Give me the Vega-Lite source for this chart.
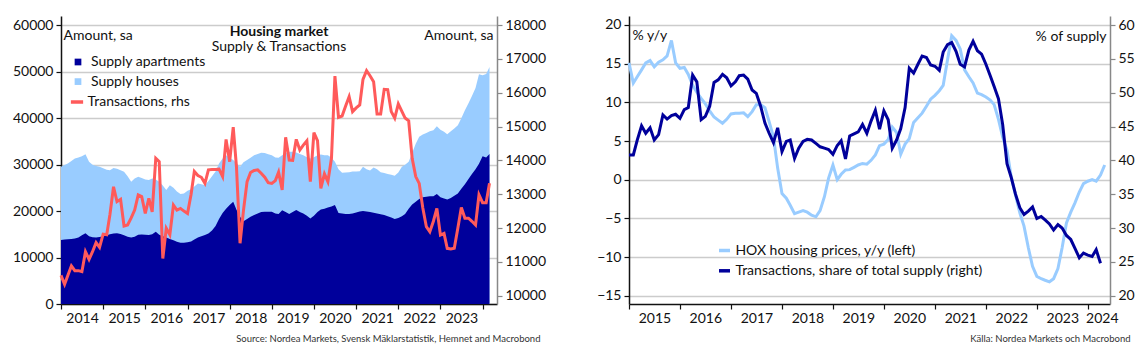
{
  "$schema": "https://vega.github.io/schema/vega-lite/v6.json",
  "background": "white",
  "padding": {"left": 12, "top": 16, "right": 5, "bottom": 5},
  "config": {
    "font": "Lato",
    "view": {"stroke": null},
    "axis": {"labelFontSize": 14, "labelColor": "#111", "titleFontWeight": "normal", "titleColor": "#111", "titleFontSize": 14, "tickSize": 5, "domainColor": "#111", "tickColor": "#111", "domainWidth": 1.5, "tickWidth": 1.2, "gridColor": "#cccccc", "gridWidth": 1.3, "labelPadding": 3},
    "legend": {"labelFontSize": 14, "labelColor": "#111", "padding": 0, "labelLimit": 0}
  },
  "spacing": 50,
  "resolve": {"scale": {"x": "independent", "y": "independent", "fill": "independent", "stroke": "independent"}, "legend": {"fill": "independent", "stroke": "independent"}},
  "hconcat": [
    {
      "width": 436, "height": 288,
      "title": {"text": "Housing market", "subtitle": "Supply & Transactions", "fontSize": 14, "fontWeight": "bold", "subtitleFontSize": 14, "subtitleColor": "#111", "color": "#111", "anchor": "middle", "frame": "group", "offset": -38, "subtitlePadding": 1},
      "data": {"values": [
        {"date": "2014-01-01", "supply_apartments": 13760, "supply_total": 29530, "transactions": 10600},
        {"date": "2014-02-01", "supply_apartments": 13900, "supply_total": 29900, "transactions": 10335},
        {"date": "2014-03-01", "supply_apartments": 13950, "supply_total": 30250, "transactions": 10600},
        {"date": "2014-04-01", "supply_apartments": 14000, "supply_total": 30800, "transactions": 10880},
        {"date": "2014-05-01", "supply_apartments": 14100, "supply_total": 31300, "transactions": 10740},
        {"date": "2014-06-01", "supply_apartments": 14300, "supply_total": 31540, "transactions": 10740},
        {"date": "2014-07-01", "supply_apartments": 14800, "supply_total": 31800, "transactions": 10710},
        {"date": "2014-08-01", "supply_apartments": 15250, "supply_total": 32260, "transactions": 11300},
        {"date": "2014-09-01", "supply_apartments": 14600, "supply_total": 30610, "transactions": 11075},
        {"date": "2014-10-01", "supply_apartments": 14350, "supply_total": 30000, "transactions": 11300},
        {"date": "2014-11-01", "supply_apartments": 14300, "supply_total": 29700, "transactions": 11570},
        {"date": "2014-12-01", "supply_apartments": 14400, "supply_total": 29530, "transactions": 11430},
        {"date": "2015-01-01", "supply_apartments": 14600, "supply_total": 29200, "transactions": 11820},
        {"date": "2015-02-01", "supply_apartments": 14800, "supply_total": 28900, "transactions": 11800},
        {"date": "2015-03-01", "supply_apartments": 15000, "supply_total": 28820, "transactions": 12400},
        {"date": "2015-04-01", "supply_apartments": 15200, "supply_total": 29300, "transactions": 13220},
        {"date": "2015-05-01", "supply_apartments": 15250, "supply_total": 29100, "transactions": 12780},
        {"date": "2015-06-01", "supply_apartments": 15050, "supply_total": 28800, "transactions": 12850},
        {"date": "2015-07-01", "supply_apartments": 14800, "supply_total": 28460, "transactions": 12060},
        {"date": "2015-08-01", "supply_apartments": 14480, "supply_total": 27500, "transactions": 12090},
        {"date": "2015-09-01", "supply_apartments": 14330, "supply_total": 26300, "transactions": 12300},
        {"date": "2015-10-01", "supply_apartments": 14500, "supply_total": 27000, "transactions": 12530},
        {"date": "2015-11-01", "supply_apartments": 14900, "supply_total": 27380, "transactions": 12980},
        {"date": "2015-12-01", "supply_apartments": 14980, "supply_total": 27100, "transactions": 12930},
        {"date": "2016-01-01", "supply_apartments": 14900, "supply_total": 26810, "transactions": 12430},
        {"date": "2016-02-01", "supply_apartments": 14840, "supply_total": 26700, "transactions": 12880},
        {"date": "2016-03-01", "supply_apartments": 15000, "supply_total": 27020, "transactions": 12480},
        {"date": "2016-04-01", "supply_apartments": 15550, "supply_total": 26800, "transactions": 14060},
        {"date": "2016-05-01", "supply_apartments": 14900, "supply_total": 26300, "transactions": 13960},
        {"date": "2016-06-01", "supply_apartments": 14600, "supply_total": 25500, "transactions": 11100},
        {"date": "2016-07-01", "supply_apartments": 14330, "supply_total": 24520, "transactions": 11990},
        {"date": "2016-08-01", "supply_apartments": 14000, "supply_total": 25590, "transactions": 11800},
        {"date": "2016-09-01", "supply_apartments": 13700, "supply_total": 25000, "transactions": 12680},
        {"date": "2016-10-01", "supply_apartments": 13400, "supply_total": 24200, "transactions": 12530},
        {"date": "2016-11-01", "supply_apartments": 13200, "supply_total": 23660, "transactions": 12580},
        {"date": "2016-12-01", "supply_apartments": 13190, "supply_total": 23800, "transactions": 12500},
        {"date": "2017-01-01", "supply_apartments": 13300, "supply_total": 24370, "transactions": 12430},
        {"date": "2017-02-01", "supply_apartments": 13450, "supply_total": 24700, "transactions": 13000},
        {"date": "2017-03-01", "supply_apartments": 13900, "supply_total": 25300, "transactions": 13670},
        {"date": "2017-04-01", "supply_apartments": 14330, "supply_total": 25950, "transactions": 13550},
        {"date": "2017-05-01", "supply_apartments": 14600, "supply_total": 25800, "transactions": 13500},
        {"date": "2017-06-01", "supply_apartments": 14840, "supply_total": 25590, "transactions": 13320},
        {"date": "2017-07-01", "supply_apartments": 15200, "supply_total": 26500, "transactions": 13720},
        {"date": "2017-08-01", "supply_apartments": 15800, "supply_total": 27500, "transactions": 13730},
        {"date": "2017-09-01", "supply_apartments": 16800, "supply_total": 28500, "transactions": 13730},
        {"date": "2017-10-01", "supply_apartments": 18300, "supply_total": 30250, "transactions": 13740},
        {"date": "2017-11-01", "supply_apartments": 19600, "supply_total": 31300, "transactions": 13520},
        {"date": "2017-12-01", "supply_apartments": 20500, "supply_total": 32040, "transactions": 14620},
        {"date": "2018-01-01", "supply_apartments": 21300, "supply_total": 31500, "transactions": 13960},
        {"date": "2018-02-01", "supply_apartments": 22000, "supply_total": 31000, "transactions": 14980},
        {"date": "2018-03-01", "supply_apartments": 20300, "supply_total": 30300, "transactions": 13810},
        {"date": "2018-04-01", "supply_apartments": 18800, "supply_total": 29530, "transactions": 11550},
        {"date": "2018-05-01", "supply_apartments": 17800, "supply_total": 30500, "transactions": 12530},
        {"date": "2018-06-01", "supply_apartments": 18300, "supply_total": 31000, "transactions": 13370},
        {"date": "2018-07-01", "supply_apartments": 18800, "supply_total": 31500, "transactions": 13640},
        {"date": "2018-08-01", "supply_apartments": 19140, "supply_total": 32040, "transactions": 13700},
        {"date": "2018-09-01", "supply_apartments": 19500, "supply_total": 32300, "transactions": 13720},
        {"date": "2018-10-01", "supply_apartments": 19800, "supply_total": 32540, "transactions": 13620},
        {"date": "2018-11-01", "supply_apartments": 19860, "supply_total": 32500, "transactions": 13500},
        {"date": "2018-12-01", "supply_apartments": 19860, "supply_total": 32260, "transactions": 13340},
        {"date": "2019-01-01", "supply_apartments": 19860, "supply_total": 32000, "transactions": 13320},
        {"date": "2019-02-01", "supply_apartments": 19500, "supply_total": 31540, "transactions": 13400},
        {"date": "2019-03-01", "supply_apartments": 19400, "supply_total": 31500, "transactions": 13650},
        {"date": "2019-04-01", "supply_apartments": 20200, "supply_total": 32000, "transactions": 13125},
        {"date": "2019-05-01", "supply_apartments": 19800, "supply_total": 32500, "transactions": 14680},
        {"date": "2019-06-01", "supply_apartments": 19350, "supply_total": 32750, "transactions": 14010},
        {"date": "2019-07-01", "supply_apartments": 19800, "supply_total": 32800, "transactions": 14000},
        {"date": "2019-08-01", "supply_apartments": 20210, "supply_total": 32600, "transactions": 14620},
        {"date": "2019-09-01", "supply_apartments": 19800, "supply_total": 32300, "transactions": 14305},
        {"date": "2019-10-01", "supply_apartments": 19500, "supply_total": 32000, "transactions": 14450},
        {"date": "2019-11-01", "supply_apartments": 19000, "supply_total": 31600, "transactions": 14580},
        {"date": "2019-12-01", "supply_apartments": 18420, "supply_total": 31330, "transactions": 13370},
        {"date": "2020-01-01", "supply_apartments": 19000, "supply_total": 31600, "transactions": 14820},
        {"date": "2020-02-01", "supply_apartments": 19800, "supply_total": 32000, "transactions": 14580},
        {"date": "2020-03-01", "supply_apartments": 20360, "supply_total": 32200, "transactions": 13175},
        {"date": "2020-04-01", "supply_apartments": 20500, "supply_total": 32000, "transactions": 13600},
        {"date": "2020-05-01", "supply_apartments": 20800, "supply_total": 32000, "transactions": 13370},
        {"date": "2020-06-01", "supply_apartments": 21000, "supply_total": 31500, "transactions": 14060},
        {"date": "2020-07-01", "supply_apartments": 21290, "supply_total": 30610, "transactions": 16490},
        {"date": "2020-08-01", "supply_apartments": 19600, "supply_total": 29000, "transactions": 15270},
        {"date": "2020-09-01", "supply_apartments": 19500, "supply_total": 28240, "transactions": 15310},
        {"date": "2020-10-01", "supply_apartments": 19400, "supply_total": 28300, "transactions": 15600},
        {"date": "2020-11-01", "supply_apartments": 19350, "supply_total": 28380, "transactions": 15880},
        {"date": "2020-12-01", "supply_apartments": 19500, "supply_total": 28500, "transactions": 15440},
        {"date": "2021-01-01", "supply_apartments": 19700, "supply_total": 28500, "transactions": 15550},
        {"date": "2021-02-01", "supply_apartments": 19900, "supply_total": 28600, "transactions": 15635},
        {"date": "2021-03-01", "supply_apartments": 20000, "supply_total": 29530, "transactions": 16395},
        {"date": "2021-04-01", "supply_apartments": 19900, "supply_total": 29000, "transactions": 16650},
        {"date": "2021-05-01", "supply_apartments": 19800, "supply_total": 28740, "transactions": 16500},
        {"date": "2021-06-01", "supply_apartments": 19640, "supply_total": 29380, "transactions": 16325},
        {"date": "2021-07-01", "supply_apartments": 19500, "supply_total": 29000, "transactions": 15370},
        {"date": "2021-08-01", "supply_apartments": 19300, "supply_total": 28380, "transactions": 15370},
        {"date": "2021-09-01", "supply_apartments": 19140, "supply_total": 28200, "transactions": 16100},
        {"date": "2021-10-01", "supply_apartments": 18900, "supply_total": 28000, "transactions": 16090},
        {"date": "2021-11-01", "supply_apartments": 18600, "supply_total": 27800, "transactions": 15440},
        {"date": "2021-12-01", "supply_apartments": 18280, "supply_total": 27600, "transactions": 15250},
        {"date": "2022-01-01", "supply_apartments": 18500, "supply_total": 28300, "transactions": 15670},
        {"date": "2022-02-01", "supply_apartments": 18900, "supply_total": 29530, "transactions": 15450},
        {"date": "2022-03-01", "supply_apartments": 19350, "supply_total": 30000, "transactions": 15250},
        {"date": "2022-04-01", "supply_apartments": 20500, "supply_total": 30610, "transactions": 15170},
        {"date": "2022-05-01", "supply_apartments": 21400, "supply_total": 32500, "transactions": 14060},
        {"date": "2022-06-01", "supply_apartments": 22000, "supply_total": 34500, "transactions": 13520},
        {"date": "2022-07-01", "supply_apartments": 22600, "supply_total": 35980, "transactions": 13320},
        {"date": "2022-08-01", "supply_apartments": 23000, "supply_total": 36500, "transactions": 12600},
        {"date": "2022-09-01", "supply_apartments": 23100, "supply_total": 36800, "transactions": 12040},
        {"date": "2022-10-01", "supply_apartments": 23200, "supply_total": 37200, "transactions": 11890},
        {"date": "2022-11-01", "supply_apartments": 23220, "supply_total": 37420, "transactions": 12200},
        {"date": "2022-12-01", "supply_apartments": 23660, "supply_total": 38280, "transactions": 12580},
        {"date": "2023-01-01", "supply_apartments": 23000, "supply_total": 37500, "transactions": 11790},
        {"date": "2023-02-01", "supply_apartments": 22700, "supply_total": 37060, "transactions": 11840},
        {"date": "2023-03-01", "supply_apartments": 22510, "supply_total": 36560, "transactions": 11400},
        {"date": "2023-04-01", "supply_apartments": 22800, "supply_total": 37200, "transactions": 11380},
        {"date": "2023-05-01", "supply_apartments": 23300, "supply_total": 37800, "transactions": 11400},
        {"date": "2023-06-01", "supply_apartments": 23800, "supply_total": 38500, "transactions": 12000},
        {"date": "2023-07-01", "supply_apartments": 24800, "supply_total": 40000, "transactions": 12610},
        {"date": "2023-08-01", "supply_apartments": 25800, "supply_total": 41720, "transactions": 12290},
        {"date": "2023-09-01", "supply_apartments": 26900, "supply_total": 43200, "transactions": 12290},
        {"date": "2023-10-01", "supply_apartments": 28000, "supply_total": 44800, "transactions": 12200},
        {"date": "2023-11-01", "supply_apartments": 29000, "supply_total": 46500, "transactions": 12090},
        {"date": "2023-12-01", "supply_apartments": 30200, "supply_total": 49460, "transactions": 12980},
        {"date": "2024-01-01", "supply_apartments": 31800, "supply_total": 49240, "transactions": 12750},
        {"date": "2024-02-01", "supply_apartments": 31540, "supply_total": 49500, "transactions": 12750},
        {"date": "2024-03-01", "supply_apartments": 32300, "supply_total": 51040, "transactions": 13320}
      ]},
      "encoding": {
        "x": {"field": "date", "type": "temporal",
          "scale": {"type": "utc", "domain": [{"year": 2014, "month": 1, "date": 1, "utc": true}, {"year": 2024, "month": 5, "date": 5, "utc": true}]},
          "axis": {"values": [{"year": 2014, "utc": true}, {"year": 2015, "utc": true}, {"year": 2016, "utc": true}, {"year": 2017, "utc": true}, {"year": 2018, "utc": true}, {"year": 2019, "utc": true}, {"year": 2020, "utc": true}, {"year": 2021, "utc": true}, {"year": 2022, "utc": true}, {"year": 2023, "utc": true}, {"year": 2024, "utc": true}],
            "labelExpr": "utcyear(datum.value) == 2024 ? '' : utcFormat(datum.value, '%Y')",
            "labelOffset": 21, "labelFlush": false, "labelPadding": 2, "grid": false,
            "title": "Source: Nordea Markets, Svensk Mäklarstatistik, Hemnet and Macrobond",
            "titleFontSize": 9.5, "titleColor": "#333", "titleAlign": "right", "titleBaseline": "middle", "titleX": 479, "titleY": 34}
        }
      },
      "layer": [
        {
          "layer": [
            {"mark": {"type": "area"},
             "encoding": {
               "y": {"field": "supply_total", "type": "quantitative", "scale": {"domain": [0, 62000], "nice": false},
                 "axis": {"values": [0, 10000, 20000, 30000, 40000, 50000, 60000], "format": "d", "grid": true,
                   "title": "Amount, sa", "titleAngle": 0, "titleAlign": "left", "titleBaseline": "middle", "titleX": 2, "titleY": 19}},
               "fill": {"datum": "Supply houses", "type": "nominal",
                 "scale": {"domain": ["Supply apartments", "Supply houses"], "range": ["#00009B", "#99CCFF"]},
                 "legend": {"title": null, "orient": "none", "legendX": 10, "legendY": 39, "symbolType": "square", "symbolSize": 45, "symbolStrokeWidth": 0, "labelOffset": 6, "rowPadding": 5.6}}
             }},
            {"mark": {"type": "area"},
             "encoding": {
               "y": {"field": "supply_apartments", "type": "quantitative"},
               "fill": {"datum": "Supply apartments", "type": "nominal"}
             }}
          ]
        },
        {"mark": {"type": "line", "strokeWidth": 3},
         "encoding": {
           "y": {"field": "transactions", "type": "quantitative", "scale": {"domain": [9755, 18266], "nice": false},
             "axis": {"orient": "right", "values": [10000, 11000, 12000, 13000, 14000, 15000, 16000, 17000, 18000], "format": "d", "grid": false,
               "domainColor": "#888", "tickColor": "#888",
               "title": "Amount, sa", "titleAngle": 0, "titleAlign": "right", "titleBaseline": "middle", "titleX": -4, "titleY": 19}},
           "stroke": {"datum": "Transactions, rhs", "type": "nominal", "scale": {"domain": ["Transactions, rhs"], "range": ["#FF5A5A"]},
             "legend": {"title": null, "orient": "none", "legendX": 8, "legendY": 78, "symbolType": "stroke", "symbolSize": 150, "symbolStrokeWidth": 3.5, "labelOffset": 2.5}}
         }}
      ],
      "resolve": {"scale": {"y": "independent"}}
    },
    {
      "width": 481, "height": 288,
      "data": {"values": [
        {"date": "2015-01-01", "hox": 15.1, "share": 40.8},
        {"date": "2015-02-01", "hox": 12.5, "share": 40.8},
        {"date": "2015-03-01", "hox": 13.3, "share": 43.0},
        {"date": "2015-04-01", "hox": 14.2, "share": 45.1},
        {"date": "2015-05-01", "hox": 15.1, "share": 44.0},
        {"date": "2015-06-01", "hox": 15.4, "share": 44.8},
        {"date": "2015-07-01", "hox": 14.6, "share": 43.0},
        {"date": "2015-08-01", "hox": 15.2, "share": 43.8},
        {"date": "2015-09-01", "hox": 15.5, "share": 46.7},
        {"date": "2015-10-01", "hox": 16.0, "share": 46.1},
        {"date": "2015-11-01", "hox": 18.0, "share": 46.6},
        {"date": "2015-12-01", "hox": 15.1, "share": 46.8},
        {"date": "2016-01-01", "hox": 14.4, "share": 46.2},
        {"date": "2016-02-01", "hox": 14.5, "share": 47.5},
        {"date": "2016-03-01", "hox": 13.6, "share": 47.8},
        {"date": "2016-04-01", "hox": 12.2, "share": 52.6},
        {"date": "2016-05-01", "hox": 11.3, "share": 51.6},
        {"date": "2016-06-01", "hox": 10.5, "share": 46.0},
        {"date": "2016-07-01", "hox": 9.8, "share": 46.5},
        {"date": "2016-08-01", "hox": 8.9, "share": 48.0},
        {"date": "2016-09-01", "hox": 8.1, "share": 51.5},
        {"date": "2016-10-01", "hox": 7.7, "share": 51.9},
        {"date": "2016-11-01", "hox": 7.3, "share": 52.7},
        {"date": "2016-12-01", "hox": 7.8, "share": 52.2},
        {"date": "2017-01-01", "hox": 8.5, "share": 51.0},
        {"date": "2017-02-01", "hox": 8.6, "share": 51.6},
        {"date": "2017-03-01", "hox": 8.6, "share": 52.5},
        {"date": "2017-04-01", "hox": 8.65, "share": 52.6},
        {"date": "2017-05-01", "hox": 8.15, "share": 52.0},
        {"date": "2017-06-01", "hox": 8.8, "share": 50.4},
        {"date": "2017-07-01", "hox": 9.7, "share": 49.9},
        {"date": "2017-08-01", "hox": 9.7, "share": 48.0},
        {"date": "2017-09-01", "hox": 9.3, "share": 45.5},
        {"date": "2017-10-01", "hox": 7.5, "share": 44.0},
        {"date": "2017-11-01", "hox": 5.5, "share": 42.6},
        {"date": "2017-12-01", "hox": 1.5, "share": 44.8},
        {"date": "2018-01-01", "hox": -1.8, "share": 41.3},
        {"date": "2018-02-01", "hox": -2.4, "share": 42.8},
        {"date": "2018-03-01", "hox": -3.3, "share": 43.0},
        {"date": "2018-04-01", "hox": -4.4, "share": 40.3},
        {"date": "2018-05-01", "hox": -4.2, "share": 41.8},
        {"date": "2018-06-01", "hox": -4.0, "share": 42.8},
        {"date": "2018-07-01", "hox": -4.2, "share": 43.1},
        {"date": "2018-08-01", "hox": -4.6, "share": 43.0},
        {"date": "2018-09-01", "hox": -4.8, "share": 42.5},
        {"date": "2018-10-01", "hox": -4.0, "share": 42.0},
        {"date": "2018-11-01", "hox": -2.2, "share": 41.8},
        {"date": "2018-12-01", "hox": 0.2, "share": 41.6},
        {"date": "2019-01-01", "hox": 1.9, "share": 40.9},
        {"date": "2019-02-01", "hox": 0.0, "share": 42.2},
        {"date": "2019-03-01", "hox": 0.7, "share": 42.9},
        {"date": "2019-04-01", "hox": 1.25, "share": 40.2},
        {"date": "2019-05-01", "hox": 1.3, "share": 43.6},
        {"date": "2019-06-01", "hox": 1.6, "share": 43.9},
        {"date": "2019-07-01", "hox": 1.9, "share": 44.2},
        {"date": "2019-08-01", "hox": 2.1, "share": 45.3},
        {"date": "2019-09-01", "hox": 2.0, "share": 44.0},
        {"date": "2019-10-01", "hox": 2.5, "share": 45.8},
        {"date": "2019-11-01", "hox": 3.2, "share": 47.4},
        {"date": "2019-12-01", "hox": 4.4, "share": 44.6},
        {"date": "2020-01-01", "hox": 4.6, "share": 47.3},
        {"date": "2020-02-01", "hox": 5.2, "share": 46.0},
        {"date": "2020-03-01", "hox": 6.8, "share": 41.8},
        {"date": "2020-04-01", "hox": 6.1, "share": 43.0},
        {"date": "2020-05-01", "hox": 3.3, "share": 44.7},
        {"date": "2020-06-01", "hox": 4.6, "share": 47.8},
        {"date": "2020-07-01", "hox": 5.3, "share": 53.6},
        {"date": "2020-08-01", "hox": 7.4, "share": 52.9},
        {"date": "2020-09-01", "hox": 8.0, "share": 54.2},
        {"date": "2020-10-01", "hox": 8.6, "share": 55.4},
        {"date": "2020-11-01", "hox": 9.5, "share": 55.2},
        {"date": "2020-12-01", "hox": 10.4, "share": 54.1},
        {"date": "2021-01-01", "hox": 10.9, "share": 53.9},
        {"date": "2021-02-01", "hox": 11.5, "share": 53.3},
        {"date": "2021-03-01", "hox": 12.2, "share": 56.0},
        {"date": "2021-04-01", "hox": 15.5, "share": 57.1},
        {"date": "2021-05-01", "hox": 18.6, "share": 57.4},
        {"date": "2021-06-01", "hox": 18.0, "share": 56.1},
        {"date": "2021-07-01", "hox": 16.9, "share": 54.2},
        {"date": "2021-08-01", "hox": 14.2, "share": 53.8},
        {"date": "2021-09-01", "hox": 13.3, "share": 56.3},
        {"date": "2021-10-01", "hox": 12.5, "share": 57.6},
        {"date": "2021-11-01", "hox": 11.2, "share": 56.2},
        {"date": "2021-12-01", "hox": 11.0, "share": 55.7},
        {"date": "2022-01-01", "hox": 10.7, "share": 54.2},
        {"date": "2022-02-01", "hox": 10.3, "share": 52.5},
        {"date": "2022-03-01", "hox": 9.7, "share": 50.9},
        {"date": "2022-04-01", "hox": 7.8, "share": 49.1},
        {"date": "2022-05-01", "hox": 5.5, "share": 45.3},
        {"date": "2022-06-01", "hox": 3.8, "share": 39.5},
        {"date": "2022-07-01", "hox": 0.4, "share": 37.5},
        {"date": "2022-08-01", "hox": -2.0, "share": 35.0},
        {"date": "2022-09-01", "hox": -4.3, "share": 33.0},
        {"date": "2022-10-01", "hox": -6.0, "share": 32.0},
        {"date": "2022-11-01", "hox": -8.8, "share": 32.5},
        {"date": "2022-12-01", "hox": -11.2, "share": 33.1},
        {"date": "2023-01-01", "hox": -12.5, "share": 31.4},
        {"date": "2023-02-01", "hox": -12.8, "share": 31.7},
        {"date": "2023-03-01", "hox": -13.0, "share": 31.2},
        {"date": "2023-04-01", "hox": -13.2, "share": 30.6},
        {"date": "2023-05-01", "hox": -12.8, "share": 29.7},
        {"date": "2023-06-01", "hox": -11.5, "share": 30.5},
        {"date": "2023-07-01", "hox": -8.8, "share": 30.0},
        {"date": "2023-08-01", "hox": -5.6, "share": 28.9},
        {"date": "2023-09-01", "hox": -4.2, "share": 28.3},
        {"date": "2023-10-01", "hox": -3.0, "share": 27.0},
        {"date": "2023-11-01", "hox": -1.6, "share": 25.6},
        {"date": "2023-12-01", "hox": -0.5, "share": 26.3},
        {"date": "2024-01-01", "hox": -0.2, "share": 26.0},
        {"date": "2024-02-01", "hox": 0.0, "share": 25.8},
        {"date": "2024-03-01", "hox": -0.2, "share": 26.8},
        {"date": "2024-04-01", "hox": 0.6, "share": 24.8},
        {"date": "2024-05-01", "hox": 1.9, "share": null}
      ]},
      "encoding": {
        "x": {"field": "date", "type": "temporal",
          "scale": {"type": "utc", "domain": [{"year": 2015, "month": 1, "date": 1, "utc": true}, {"year": 2024, "month": 6, "date": 8, "utc": true}]},
          "axis": {"values": [{"year": 2015, "utc": true}, {"year": 2016, "utc": true}, {"year": 2017, "utc": true}, {"year": 2018, "utc": true}, {"year": 2019, "utc": true}, {"year": 2020, "utc": true}, {"year": 2021, "utc": true}, {"year": 2022, "utc": true}, {"year": 2023, "utc": true}, {"year": 2024, "utc": true}],
            "labelExpr": "utcFormat(datum.value, '%Y')",
            "labelOffset": {"condition": {"test": "utcyear(datum.value) == 2024", "value": 14}, "value": 25.4},
            "labelFlush": false, "labelPadding": 2, "grid": false,
            "title": "Källa: Nordea Markets och Macrobond",
            "titleFontSize": 9.5, "titleColor": "#333", "titleAlign": "right", "titleBaseline": "middle", "titleX": 501, "titleY": 34}
        }
      },
      "layer": [
        {"mark": {"type": "line", "strokeWidth": 3},
         "encoding": {
           "y": {"field": "hox", "type": "quantitative", "scale": {"domain": [-16.07, 21.16], "nice": false},
             "axis": {"values": [-15, -10, -5, 0, 5, 10, 15, 20], "grid": true,
               "title": "% y/y", "titleAngle": 0, "titleAlign": "left", "titleBaseline": "middle", "titleX": 3, "titleY": 19}},
           "stroke": {"datum": "HOX housing prices, y/y (left)", "type": "nominal",
             "scale": {"domain": ["HOX housing prices, y/y (left)", "Transactions, share of total supply (right)"], "range": ["#99CCFF", "#00009B"]},
             "legend": {"title": null, "orient": "none", "legendX": 88, "legendY": 227, "symbolType": "stroke", "symbolSize": 121, "symbolStrokeWidth": 3.5, "labelOffset": 3.4, "rowPadding": 5.3, "labelLimit": 0}}
         }},
        {"mark": {"type": "line", "strokeWidth": 3},
         "encoding": {
           "y": {"field": "share", "type": "quantitative", "scale": {"domain": [18.77, 61.33], "nice": false},
             "axis": {"orient": "right", "values": [20, 25, 30, 35, 40, 45, 50, 55, 60], "grid": false,
               "domainColor": "#888", "tickColor": "#888",
               "title": "% of supply", "titleAngle": 0, "titleAlign": "right", "titleBaseline": "middle", "titleX": -4, "titleY": 20.5}},
           "stroke": {"datum": "Transactions, share of total supply (right)", "type": "nominal"}
         }}
      ],
      "resolve": {"scale": {"y": "independent"}}
    }
  ]
}
